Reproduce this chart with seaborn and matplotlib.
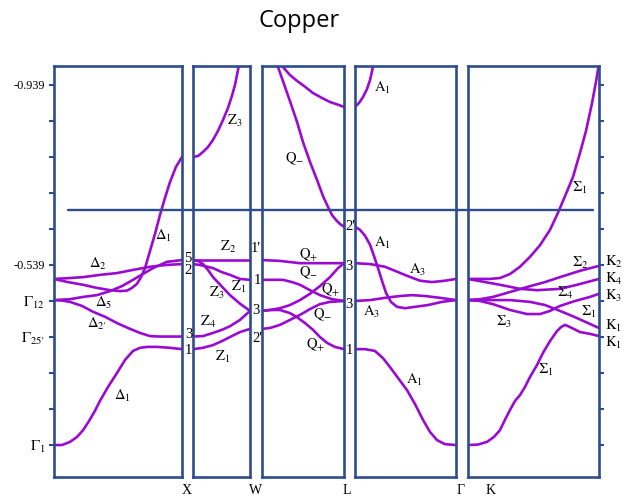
import matplotlib
matplotlib.use("Agg")
import matplotlib.pyplot as plt
import matplotlib.transforms as mtransforms
import seaborn as sns

sns.set_style("white")
plt.rcParams["font.family"] = ["Liberation Serif", "DejaVu Serif"]
plt.rcParams["mathtext.fontset"] = "stix"
plt.rcParams["text.color"] = "black"
plt.rcParams["ytick.labelcolor"] = "black"

BAND = "#9A0BD2"
FRAME = "#2E4D8E"
W_PX, H_PX = 626, 497

# energy axis (Ry); the scale runs downward
tick_energy = [-0.939, -0.859, -0.779, -0.699, -0.619, -0.539,
               -0.459, -0.379, -0.299, -0.219, -0.139]
tick_text = ["-0.939", "", "", "", "", "-0.539",
             r"$\Gamma_{12}$", r"$\Gamma_{25\prime}$", "", "", r"$\Gamma_{1}$"]
fermi_energy = -0.661
energy_window = (-0.068, -0.981)

# ---- Gamma -> X (Delta line) ----
gx_d1_k = [0, .0625, .125, .180, .227, .273, .320, .359, .422, .492, .555, .617, .672,
           .727, .805, .906, 1]
gx_d1_e = [-0.139, -0.139, -0.146, -0.157, -0.172, -0.192, -0.215, -0.237, -0.268,
           -0.299, -0.328, -0.348, -0.355, -0.357, -0.357, -0.355, -0.352]
gx_d2p_k = [0, .0625, .125, .219, .305, .398, .492, .578, .672, .75, .828, .906, 1]
gx_d2p_e = [-0.461, -0.460, -0.457, -0.448, -0.435, -0.424, -0.410, -0.399, -0.388,
            -0.381, -0.380, -0.380, -0.380]
gx_d5_k = [0, .125, .227, .336, .438, .531, .617, .695, .773, .828, .883, .945, 1]
gx_d5_e = [-0.461, -0.463, -0.468, -0.472, -0.481, -0.492, -0.506, -0.519, -0.532,
           -0.539, -0.546, -0.548, -0.550]
gx_d2_k = [0, .125, .227, .359, .492, .617, .75, .875, 1]
gx_d2_e = [-0.508, -0.510, -0.512, -0.517, -0.521, -0.528, -0.535, -0.539, -0.541]
gx_d1u_k = [0, .109, .227, .336, .438, .516, .570, .609, .648, .680, .711, .75, .789,
            .828, .867, .906, .953, 1]
gx_d1u_e = [-0.508, -0.501, -0.495, -0.488, -0.483, -0.481, -0.482, -0.488, -0.497,
            -0.512, -0.532, -0.570, -0.608, -0.650, -0.688, -0.723, -0.757, -0.779]

# ---- X -> W (Z line) ----
xw_z2_k = [0, 1]
xw_z2_e = [-0.550, -0.550]
xw_z1_k = [0, .123, .351, .509, .649, .825, 1]
xw_z1_e = [-0.541, -0.539, -0.532, -0.523, -0.517, -0.508, -0.506]
xw_z3_k = [0, .088, .175, .263, .351, .5, .649, .825, 1]
xw_z3_e = [-0.550, -0.548, -0.541, -0.528, -0.512, -0.492, -0.472, -0.453, -0.437]
xw_z4_k = [0, .175, .351, .509, .649, .825, 1]
xw_z4_e = [-0.380, -0.381, -0.388, -0.395, -0.403, -0.417, -0.437]
xw_z1l_k = [0, .175, .351, .509, .649, .825, 1]
xw_z1l_e = [-0.352, -0.355, -0.361, -0.370, -0.379, -0.390, -0.397]
xw_z3u_k = [0, .088, .175, .263, .351, .439, .526, .614, .684, .737, .789, .842]
xw_z3u_e = [-0.779, -0.781, -0.790, -0.801, -0.817, -0.837, -0.861, -0.888, -0.915,
            -0.939, -0.972, -1.012]

# ---- W -> L (Q line) ----
wl_qp1_k = [0, .22, .463, .707, 1]
wl_qp1_e = [-0.550, -0.548, -0.543, -0.543, -0.543]
wl_qm1_k = [0, .256, .366, .463, .585, .707, .854, 1]
wl_qm1_e = [-0.506, -0.506, -0.501, -0.495, -0.483, -0.472, -0.463, -0.459]
wl_qp2_k = [0, .098, .22, .341, .463, .585, .707, .829, .927, 1]
wl_qp2_e = [-0.437, -0.439, -0.443, -0.450, -0.461, -0.475, -0.492, -0.512, -0.532, -0.543]
wl_qm2_k = [0, .098, .22, .341, .463, .585, .707, .829, 1]
wl_qm2_e = [-0.397, -0.399, -0.406, -0.417, -0.428, -0.441, -0.452, -0.457, -0.459]
wl_qp3_k = [0, .098, .22, .341, .427, .524, .622, .707, .793, .89, 1]
wl_qp3_e = [-0.437, -0.439, -0.439, -0.432, -0.423, -0.410, -0.395, -0.379, -0.366, -0.357, -0.352]
wl_qm3_k = [.146, .195, .268, .341, .427, .5, .585, .671, .744, .805, .854, .902, .951, 1]
wl_qm3_e = [-1.006, -0.979, -0.941, -0.903, -0.857, -0.812, -0.768, -0.728, -0.692,
            -0.668, -0.650, -0.639, -0.630, -0.624]
wl_top_k = [.207, .244, .341, .427, .524, .622, .732, .829, .927, 1]
wl_top_e = [-1.006, -0.981, -0.961, -0.948, -0.935, -0.921, -0.910, -0.901, -0.895, -0.890]

# ---- L -> Gamma (Lambda line) ----
lg_a1t_k = [0, .04, .079, .119, .149, .178, .208]
lg_a1t_e = [-0.890, -0.899, -0.912, -0.930, -0.950, -0.979, -1.012]
lg_a1_k = [0, .05, .099, .149, .188, .228, .267, .307, .356, .416, .495, .594, .723, .861, 1]
lg_a1_e = [-0.624, -0.617, -0.604, -0.584, -0.559, -0.532, -0.504, -0.477, -0.457,
           -0.446, -0.443, -0.446, -0.450, -0.457, -0.461]
lg_a3u_k = [0, .149, .297, .396, .515, .644, .762, .891, 1]
lg_a3u_e = [-0.543, -0.541, -0.535, -0.526, -0.515, -0.504, -0.501, -0.504, -0.508]
lg_a3l_k = [0, .149, .297, .446, .564, .693, .842, 1]
lg_a3l_e = [-0.459, -0.461, -0.466, -0.470, -0.472, -0.470, -0.466, -0.461]
lg_a1l_k = [0, .099, .198, .277, .347, .426, .515, .594, .673, .743, .812, .891, 1]
lg_a1l_e = [-0.352, -0.352, -0.348, -0.332, -0.312, -0.288, -0.261, -0.230, -0.195,
            -0.168, -0.150, -0.141, -0.139]

# ---- Gamma -> K (Sigma line) ----
gk_s1u_k = [0, .092, .168, .244, .321, .397, .473, .550, .626, .687, .748, .802, .855,
            .901, .947, .977, 1]
gk_s1u_e = [-0.508, -0.508, -0.508, -0.510, -0.519, -0.535, -0.557, -0.583, -0.617,
            -0.655, -0.697, -0.735, -0.788, -0.837, -0.899, -0.946, -0.986]
gk_k4_k = [0, .130, .244, .397, .527, .702, .832, 1]
gk_k4_e = [-0.508, -0.501, -0.495, -0.486, -0.483, -0.486, -0.495, -0.508]
gk_s2_k = [0, .092, .191, .321, .450, .588, .702, .855, 1]
gk_s2_e = [-0.461, -0.463, -0.468, -0.479, -0.490, -0.501, -0.512, -0.526, -0.537]
gk_s3_k = [0, .092, .191, .321, .450, .550, .626, .702, .817, .931, 1]
gk_s3_e = [-0.461, -0.459, -0.452, -0.439, -0.430, -0.430, -0.437, -0.448, -0.459, -0.468, -0.475]
gk_s1m_k = [0, .168, .321, .473, .588, .702, .817, .931, 1]
gk_s1m_e = [-0.461, -0.461, -0.461, -0.457, -0.450, -0.437, -0.423, -0.408, -0.399]
gk_s1l_k = [0, .076, .145, .198, .244, .282, .321, .359, .397, .435, .473, .527, .573,
            .626, .679, .710, .740, .779, .855, .931, 1]
gk_s1l_e = [-0.139, -0.140, -0.146, -0.157, -0.172, -0.195, -0.217, -0.237, -0.250,
            -0.268, -0.290, -0.317, -0.344, -0.370, -0.392, -0.401, -0.406, -0.401,
            -0.390, -0.386, -0.381]

segments = [
    [(gx_d1_k, gx_d1_e), (gx_d2p_k, gx_d2p_e), (gx_d5_k, gx_d5_e),
     (gx_d2_k, gx_d2_e), (gx_d1u_k, gx_d1u_e)],
    [(xw_z2_k, xw_z2_e), (xw_z1_k, xw_z1_e), (xw_z3_k, xw_z3_e),
     (xw_z4_k, xw_z4_e), (xw_z1l_k, xw_z1l_e), (xw_z3u_k, xw_z3u_e)],
    [(wl_qp1_k, wl_qp1_e), (wl_qm1_k, wl_qm1_e), (wl_qp2_k, wl_qp2_e),
     (wl_qm2_k, wl_qm2_e), (wl_qp3_k, wl_qp3_e), (wl_qm3_k, wl_qm3_e),
     (wl_top_k, wl_top_e)],
    [(lg_a1t_k, lg_a1t_e), (lg_a1_k, lg_a1_e), (lg_a3u_k, lg_a3u_e),
     (lg_a3l_k, lg_a3l_e), (lg_a1l_k, lg_a1l_e)],
    [(gk_s1u_k, gk_s1u_e), (gk_k4_k, gk_k4_e), (gk_s2_k, gk_s2_e),
     (gk_s3_k, gk_s3_e), (gk_s1m_k, gk_s1m_e), (gk_s1l_k, gk_s1l_e)],
]

# panel frames in pixels (left, right); all share top/bottom
panel_px = [(54, 182), (193, 250), (262, 344), (355, 456), (468, 599)]
top_px, bottom_px = 66, 477

fig = plt.figure(figsize=(W_PX / 100, H_PX / 100), dpi=100)
axes = []
for (x0, x1), bands in zip(panel_px, segments):
    ax = fig.add_axes([x0 / W_PX, 1 - bottom_px / H_PX,
                       (x1 - x0) / W_PX, (bottom_px - top_px) / H_PX])
    for k, e in bands:
        sns.lineplot(x=k, y=e, ax=ax, color=BAND, linewidth=1.9,
                     sort=False, estimator=None, legend=False,
                     solid_joinstyle="round", solid_capstyle="round")
    ax.set_xlim(0, 1)
    ax.set_ylim(*energy_window)
    ax.set_xlabel("")
    ax.set_ylabel("")
    ax.set_xticks([])
    ax.set_yticks([])
    for sp in ax.spines.values():
        sp.set_color(FRAME)
        sp.set_linewidth(1.9)
        sp.set_visible(True)
    axes.append(ax)

# energy ticks on the outer frames
ax0, ax4 = axes[0], axes[-1]
ax0.set_yticks(tick_energy)
ax0.set_yticklabels(tick_text)
ax0.tick_params(axis="y", left=True, direction="out", length=3.5, width=1.5,
                color=FRAME, pad=3, labelsize=8.8, labelcolor="black")
for lbl in ax0.get_yticklabels():
    if lbl.get_text().startswith("$"):
        lbl.set_fontsize(11)
ax4.set_yticks(tick_energy)
ax4.yaxis.tick_right()
ax4.tick_params(axis="y", right=True, direction="out", length=3.5, width=1.5,
                color=FRAME, labelright=False)

# Fermi level across all panels
fermi_tr = mtransforms.blended_transform_factory(fig.transFigure, ax0.transData)
fig.add_artist(plt.Line2D([68 / W_PX, 593 / W_PX], [fermi_energy, fermi_energy],
                          transform=fermi_tr, color=FRAME, linewidth=1.7))


def put(px, py, s, size=10.5, ha="center"):
    fig.text(px / W_PX, 1 - py / H_PX, s, ha=ha, va="center", fontsize=size,
             color="black")


fig.text(299 / W_PX, 1 - 21 / H_PX, "Copper", ha="center", va="center",
         fontsize=17, family="Open Sans", color="black")

# band labels
notes = [
    (163, 236, r"$\Delta_{1}$"), (98, 264, r"$\Delta_{2}$"), (104, 303, r"$\Delta_{5}$"),
    (97, 324, r"$\Delta_{2\prime}$"), (122, 396, r"$\Delta_{1}$"),
    (235, 121, r"$\mathrm{Z}_{3}$"), (228, 247, r"$\mathrm{Z}_{2}$"),
    (217, 293, r"$\mathrm{Z}_{3}$"), (239, 287, r"$\mathrm{Z}_{1}$"),
    (208, 322, r"$\mathrm{Z}_{4}$"), (223, 357, r"$\mathrm{Z}_{1}$"),
    (295, 159, r"$\mathrm{Q}_{-}$"), (309, 255, r"$\mathrm{Q}_{+}$"),
    (309, 273, r"$\mathrm{Q}_{-}$"), (331, 290, r"$\mathrm{Q}_{+}$"),
    (323, 315, r"$\mathrm{Q}_{-}$"), (316, 345, r"$\mathrm{Q}_{+}$"),
    (382, 88, r"$\mathrm{A}_{1}$"), (382, 243, r"$\mathrm{A}_{1}$"),
    (418, 270, r"$\mathrm{A}_{3}$"), (372, 312, r"$\mathrm{A}_{3}$"),
    (414, 380, r"$\mathrm{A}_{1}$"),
    (580, 188, r"$\Sigma_{1}$"), (580, 263, r"$\Sigma_{2}$"), (565, 293, r"$\Sigma_{4}$"),
    (589, 312, r"$\Sigma_{1}$"), (504, 322, r"$\Sigma_{3}$"), (546, 370, r"$\Sigma_{1}$"),
]
for px, py, s in notes:
    put(px, py, s)

# symmetry-point labels at the panel joins
for px, py, s in [(188, 259, "5"), (188, 271, "2"), (189, 335, "3"), (188, 350, "1"),
                  (256, 249, "1'"), (257, 280, "1"), (256, 311, "3"), (257, 338, "2'"),
                  (350, 227, "2'"), (349, 267, "3"), (349, 305, "3"), (349, 351, "1")]:
    put(px, py, s, size=10.5)

for py, s in [(262, r"$\mathrm{K}_{2}$"), (279, r"$\mathrm{K}_{4}$"), (296, r"$\mathrm{K}_{3}$"),
              (326, r"$\mathrm{K}_{1}$"), (343, r"$\mathrm{K}_{1}$")]:
    put(605, py, s, ha="left")

for px, s in [(187, "X"), (256, "W"), (347, "L"), (461, "Γ"), (491, "K")]:
    put(px, 491, s, size=10)

fig.savefig("out.png", dpi=100)
